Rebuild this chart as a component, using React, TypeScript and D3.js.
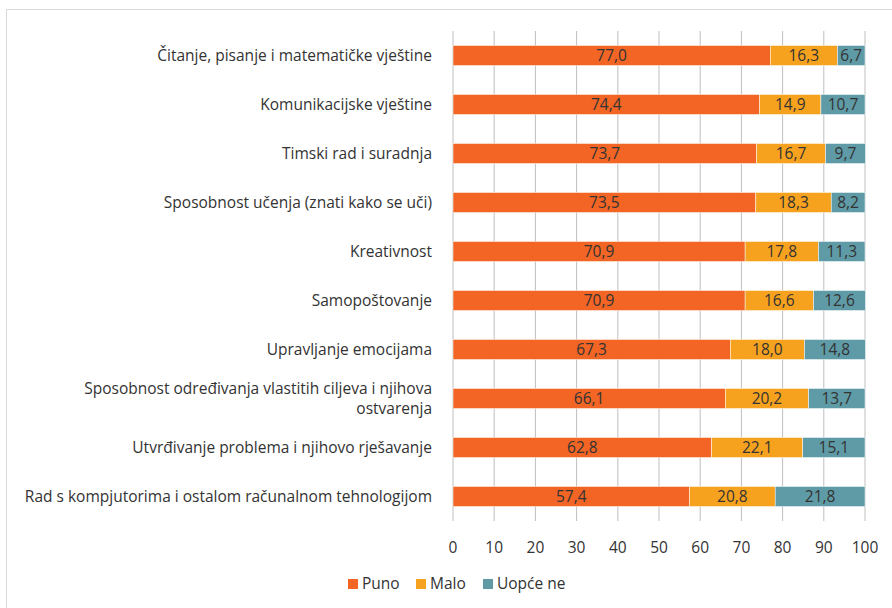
import React from 'react';
import * as d3 from 'd3';

const categories = [
  'Čitanje, pisanje i matematičke vještine',
  'Komunikacijske vještine',
  'Timski rad i suradnja',
  'Sposobnost učenja (znati kako se uči)',
  'Kreativnost',
  'Samopoštovanje',
  'Upravljanje emocijama',
  'Sposobnost određivanja vlastitih ciljeva i njihova ostvarenja',
  'Utvrđivanje problema i njihovo rješavanje',
  'Rad s kompjutorima i ostalom računalnom tehnologijom',
];
const puno = [77.0, 74.4, 73.7, 73.5, 70.9, 70.9, 67.3, 66.1, 62.8, 57.4];
const malo = [16.3, 14.9, 16.7, 18.3, 17.8, 16.6, 18.0, 20.2, 22.1, 20.8];
const uopce = [6.7, 10.7, 9.7, 8.2, 11.3, 12.6, 14.8, 13.7, 15.1, 21.8];
const seriesNames = ['Puno', 'Malo', 'Uopće ne'];
const colors = ['#F26524', '#F7A21E', '#5F9BA6'];
const ticks = [0, 10, 20, 30, 40, 50, 60, 70, 80, 90, 100];

// long labels wrap into two lines like the original
const labelLines: Record<string, string[]> = {
  'Sposobnost određivanja vlastitih ciljeva i njihova ostvarenja': [
    'Sposobnost određivanja vlastitih ciljeva i njihova',
    'ostvarenja',
  ],
};

const W = 892;
const H = 608;
const FONT = '"Open Sans", sans-serif';
const FS = 15.5;

export default function App() {
  const x = d3.scaleLinear().domain([0, 100]).range([453, 865]);
  const y = d3.scaleBand<string>().domain(categories).range([31, 521]).paddingInner(0.59).paddingOuter(0.295);
  const fmt = (v: number) => v.toFixed(1).replace('.', ',');
  const stacked = categories.map((c, i) => {
    const vals = [puno[i], malo[i], uopce[i]];
    let acc = 0;
    return vals.map((v, k) => {
      const s = { c, k, v, x0: acc, x1: acc + v };
      acc += v;
      return s;
    });
  });

  const legendX = [348, 416, 483];

  return (
    <svg width={W} height={H} style={{ position: 'absolute', left: 0, top: 0, fontFamily: FONT }}>
      <rect x={0} y={0} width={W} height={H} fill="#fff" />
      <rect x={6.5} y={9.5} width={W + 10} height={H + 10} fill="none" stroke="#d9d9d9" />
      {ticks.map(t => (
        <line key={t} x1={x(t)} x2={x(t)} y1={31} y2={521} stroke="#bfbfbf" strokeWidth={1} />
      ))}
      {stacked.map(row =>
        row.map(s => (
          <g key={`${s.c}-${s.k}`}>
            <rect
              x={x(s.x0)}
              y={y(s.c)!}
              width={x(s.x1) - x(s.x0)}
              height={y.bandwidth()}
              fill={colors[s.k]}
              stroke="#fff"
              strokeWidth={0.5}
            />
            <text
              x={(x(s.x0) + x(s.x1)) / 2}
              y={y(s.c)! + y.bandwidth() / 2}
              dy="0.35em"
              textAnchor="middle"
              fontSize={FS}
              fill="#333"
            >
              {fmt(s.v)}
            </text>
          </g>
        )),
      )}
      {categories.map(c => {
        const lines = labelLines[c] ?? [c];
        const cy = y(c)! + y.bandwidth() / 2;
        return lines.map((l, i) => (
          <text
            key={`${c}-${i}`}
            x={432}
            y={cy + (i - (lines.length - 1) / 2) * 20}
            dy="0.35em"
            textAnchor="end"
            fontSize={FS}
            fill="#333"
          >
            {l}
          </text>
        ));
      })}
      {ticks.map(t => (
        <text key={t} x={x(t)} y={548} dy="0.35em" textAnchor="middle" fontSize={FS} fill="#333">
          {t}
        </text>
      ))}
      {seriesNames.map((n, i) => (
        <g key={n} transform={`translate(${legendX[i]},584)`}>
          <rect x={0} y={-5} width={10} height={10} fill={colors[i]} />
          <text x={14} y={0} dy="0.35em" fontSize={FS} fill="#333">
            {n}
          </text>
        </g>
      ))}
    </svg>
  );
}
